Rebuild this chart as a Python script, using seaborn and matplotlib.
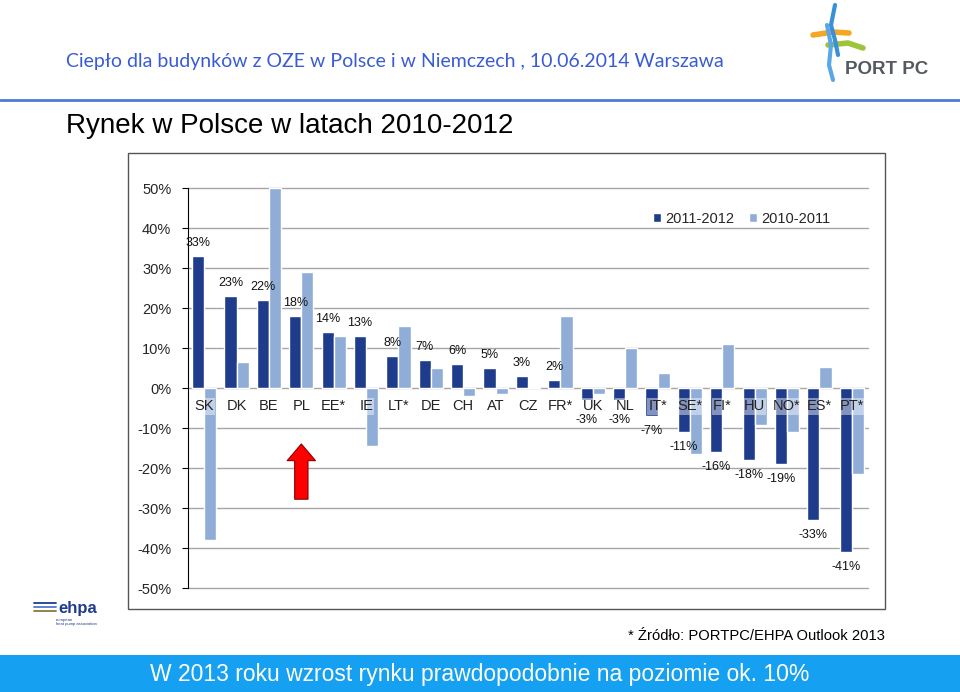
import matplotlib
matplotlib.use("Agg")
import matplotlib.pyplot as plt
import matplotlib.patches as mpatches
import seaborn as sns
import numpy as np
import pandas as pd

#%% dane
countries = ['SK', 'DK', 'BE', 'PL', 'EE*', 'IE', 'LT*', 'DE', 'CH', 'AT', 'CZ',
             'FR*', 'UK', 'NL', 'IT*', 'SE*', 'FI*', 'HU', 'NO*', 'ES*', 'PT*']
growth_2011_2012 = [33, 23, 22, 18, 14, 13, 8, 7, 6, 5, 3,
                    2, -3, -3, -7, -11, -16, -18, -19, -33, -41]
growth_2010_2011 = [-38, 6.5, 50, 29, 13, -14.5, 15.5, 5, -2, -1.5, 0.3,
                    18, -1.5, 10, 3.7, -16.5, 11, -9.3, -11, 5.3, -21.5]
series_names = ['2011-2012', '2010-2011']
y_ticks = [50, 40, 30, 20, 10, 0, -10, -20, -30, -40, -50]

df = pd.DataFrame({
    'kraj': countries * 2,
    'okres': [series_names[0]] * len(countries) + [series_names[1]] * len(countries),
    'wzrost': growth_2011_2012 + growth_2010_2011,
})

DARK = '#1f3b8c'
LIGHT = '#8fadd7'

#%% rysunek
sns.set_theme(style="white")
plt.rcParams['font.family'] = ['Liberation Sans', 'DejaVu Sans']

fig = plt.figure(figsize=(9.6, 6.92), dpi=100)
fig.patch.set_facecolor('white')

# ramka wykresu
frame = mpatches.Rectangle((128 / 960, 1 - 609 / 692), (885 - 128) / 960, (609 - 153) / 692,
                           transform=fig.transFigure, facecolor='white',
                           edgecolor='#555555', linewidth=1.0, zorder=-2)
fig.add_artist(frame)

ax = fig.add_axes([188 / 960, 1 - 588 / 692, (868 - 188) / 960, 400 / 692])
ax.set_facecolor('none')
ax.set_zorder(2)

sns.barplot(data=df, x='kraj', y='wzrost', hue='okres', order=countries,
            hue_order=series_names, palette=[DARK, LIGHT], width=0.75,
            saturation=1, ax=ax, legend=True, zorder=3)

ax.set_ylim(-50, 50)
ax.set_xlim(-0.5, len(countries) - 0.5)
ax.set_yticks(y_ticks)
ax.set_yticklabels([f'{t}%' for t in y_ticks], fontsize=10.5)
ax.tick_params(axis='y', length=4, width=0.8, color='black', pad=8, left=True)
ax.set_xticks([])
ax.set_xlabel('')
ax.set_ylabel('')
for t in y_ticks:
    ax.axhline(t, color='#a6a6a6', linewidth=1.0, zorder=1, clip_on=False)
for side in ['top', 'right', 'bottom']:
    ax.spines[side].set_visible(False)
ax.spines['left'].set_color('black')
ax.spines['left'].set_linewidth(0.8)

# etykiety krajów przy osi zero
for i, c in enumerate(countries):
    ax.text(i, -4.6, c, ha='center', va='center', fontsize=10.5, color='#222222', zorder=5,
            bbox=dict(boxstyle='square,pad=0.08', facecolor='white', edgecolor='none', alpha=0.45))

# wartości nad/pod ciemnymi słupkami
for i, v in enumerate(growth_2011_2012):
    x = i - 0.1875
    if v >= 0:
        ax.text(x, v + 3.2, f'{v}%', ha='center', va='center', fontsize=9, color='#111111', zorder=6)
    else:
        ax.text(x, min(v - 3.7, -8.0), f'{v}%', ha='center', va='center', fontsize=9,
                color='#111111', zorder=6)

# czerwona strzałka pod PL
ax.annotate('', xy=(3, -13.3), xytext=(3, -28.5),
            arrowprops=dict(arrowstyle='simple,head_length=1.0,head_width=1.7,tail_width=0.8',
                            facecolor='#ff0000', edgecolor='#8b0000', linewidth=0.8),
            zorder=6)

leg = ax.legend(loc='upper right', bbox_to_anchor=(0.953, 0.955), ncol=2, frameon=False,
                fontsize=10.5, handlelength=0.55, handleheight=0.55, handletextpad=0.3,
                columnspacing=1.0, borderaxespad=0)

#%% nagłówek
fig.text(66 / 960, 1 - 62 / 692, 'Ciepło dla budynków z OZE w Polsce i w Niemczech , 10.06.2014 Warszawa',
         fontsize=14, color='#3a5bd6', family=['Lato', 'DejaVu Sans'], ha='left', va='center')
fig.add_artist(plt.Line2D([0, 1], [1 - 100 / 692, 1 - 100 / 692], transform=fig.transFigure,
                          color='#4a7bd0', linewidth=2))
fig.text(66 / 960, 1 - 126 / 692, 'Rynek w Polsce w latach 2010-2012', fontsize=20,
         color='black', ha='left', va='center')

# logo PORT PC (uproszczone)
fig.text(845 / 960, 1 - 70 / 692, 'PORT PC', fontsize=13.5, fontweight='bold', color='#555a60',
         ha='left', va='center')
lx = fig.add_axes([783 / 960, 1 - 85 / 692, 90 / 960, 83 / 692])
lx.axis('off')
lx.set_xlim(0, 90)
lx.set_ylim(0, 83)
lx.plot([30, 50, 66], [50, 53, 52], color='#f5a623', linewidth=4, solid_capstyle='round')
lx.plot([45, 65, 80], [40, 42, 37], color='#9dc43a', linewidth=4, solid_capstyle='round')
lx.plot([52, 48, 52, 55], [80, 60, 45, 30], color='#3a8fd9', linewidth=3, solid_capstyle='round')
lx.plot([44, 48, 46, 50], [60, 40, 20, 5], color='#5aa7e6', linewidth=3, solid_capstyle='round')

# logo ehpa (uproszczone)
fig.text(58 / 960, 1 - 608 / 692, 'ehpa', fontsize=12, fontweight='bold', color='#1f3b8c',
         ha='left', va='center')
fig.text(56 / 960, 1 - 622 / 692, 'european\nheat pump association', fontsize=3, color='#1f3b8c',
         ha='left', va='center', linespacing=1.0)
for k, col in enumerate(['#1f3b8c', '#4a7bd0', '#8a7a3a']):
    fig.add_artist(plt.Line2D([34 / 960, 56 / 960], [1 - (603 + 4 * k) / 692] * 2,
                              transform=fig.transFigure, color=col, linewidth=1.3))

#%% stopka
fig.text(885 / 960, 1 - 636 / 692, '* Źródło: PORTPC/EHPA Outlook 2013', fontsize=10.6,
         color='black', ha='right', va='center')
band = mpatches.Rectangle((0, 0), 1, 37 / 692, transform=fig.transFigure,
                          facecolor='#16a0f2', edgecolor='none', zorder=-2)
fig.add_artist(band)
fig.text(0.5, 18 / 692, 'W 2013 roku wzrost rynku prawdopodobnie na poziomie ok. 10%', fontsize=16.5,
         color='white', ha='center', va='center')

fig.savefig('out.png', dpi=100)
